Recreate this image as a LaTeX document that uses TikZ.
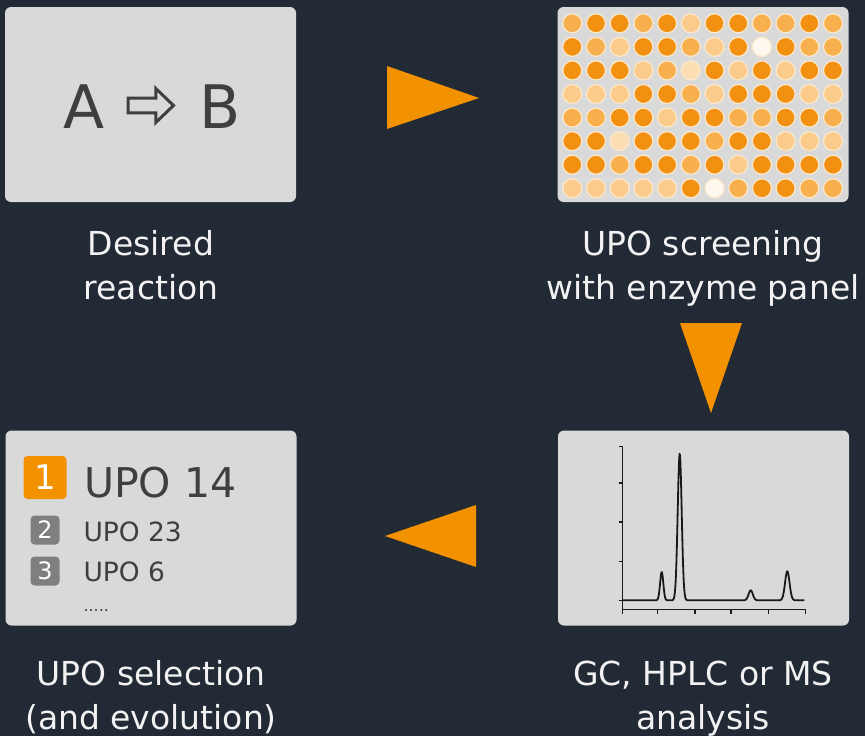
\documentclass[tikz,border=0pt]{standalone}
\usepackage{fontspec}
\setmainfont{DejaVu Sans}
\usepackage{tikz}
\usetikzlibrary{positioning}
\usetikzlibrary{calc}

\definecolor{bgnavy}{HTML}{222A35}
\definecolor{panelgray}{HTML}{D9D9D9}
\definecolor{captionwhite}{HTML}{F2F2F2}
\definecolor{inkgray}{HTML}{3F3F3F}
\definecolor{badgegray}{HTML}{7F7F7F}
\definecolor{arroworange}{HTML}{F39200}
\definecolor{wellring}{HTML}{FCE9CC}
\definecolor{wellD}{HTML}{F29111}
\definecolor{wellM}{HTML}{F8B04E}
\definecolor{wellL}{HTML}{FBCB8B}
\definecolor{wellV}{HTML}{FDDDB3}
\definecolor{wellW}{HTML}{FFF8EE}

\tikzset{
  panel/.style={fill=panelgray, rounded corners=6pt, minimum width=291pt, minimum height=195pt, inner sep=0pt},
  caption/.style={text=captionwhite, align=center, anchor=base, inner sep=0pt, font=\fontsize{33}{44}\selectfont},
  bigarrow/.style={fill=arroworange},
  badge/.style={rounded corners=4pt, text=white, inner sep=0pt},
  listentry/.style={anchor=base west, inner sep=0pt, text=inkgray, font=\fontsize{26.5}{26.5}\selectfont},
  well/.style={draw=wellring, line width=1.2pt},
  chart/.style={draw=black!90, line width=1.5pt}
}

\begin{document}
\begin{tikzpicture}[x=1pt,y=-1pt,
  declare function={pk(\t,\c,\w)=exp(-min(((\t-\c)/\w)*((\t-\c)/\w),40)/2);}]
\fill[bgnavy] (0,0) rectangle (865,736);
\useasboundingbox (0,0) rectangle (865,736);

% the four panels
\node[panel] (reaction) at (150.5,104.5) {};
\node[panel] (screening) at (703,104.5) {};
\node[panel] (analysis) at (703.5,528) {};
\node[panel] (selection) at (151,528) {};

% captions (base = last line)
\node[caption] (reactionlabel) at (151,299) {Desired\\reaction};
\node[caption] (screeninglabel) at (703,299) {UPO screening\\with enzyme panel};
\node[caption] (selectionlabel) at (151,729) {UPO selection\\(and evolution)};
\node[caption] (analysislabel) at (703,729) {GC, HPLC or MS\\analysis};

% orange arrows
\fill[bigarrow] (387,66) -- (387,129) -- (479,98) -- cycle;
\fill[bigarrow] (680,323) -- (742,323) -- (711,413) -- cycle;
\fill[bigarrow] (476,505) -- (476,567) -- (385,536) -- cycle;

% A => B
\node[text=inkgray, anchor=base, inner sep=0pt, font=\fontsize{60}{60}\selectfont] (lhs) at (83.7,128.3) {A};
\node[text=inkgray, anchor=base, inner sep=0pt, font=\fontsize{60}{60}\selectfont] (rhs) at (219.8,128.3) {B};
\draw[inkgray, line width=3pt] (128.2,98.2) -- (155.8,98.2) -- (155.8,88.5) -- (173.5,105.5) -- (155.8,122.5) -- (155.8,112.8) -- (128.2,112.8) -- cycle;

% well plate
\foreach \row [count=\j] in {{M,D,D,M,D,L,D,D,M,M,D,M},{D,M,L,D,D,M,L,D,W,D,M,M},{D,D,D,L,M,V,D,L,D,L,D,D},{L,L,L,D,D,M,L,D,D,D,L,L},{M,M,D,D,L,D,D,M,M,D,D,M},{D,D,V,D,D,D,M,D,D,L,L,L},{D,D,M,D,D,M,D,L,D,D,D,D},{L,L,L,L,L,D,W,M,D,D,M,M}}
  \foreach \c [count=\i] in \row
    \filldraw[well, fill=well\c] ({572.3+23.7*(\i-1)},{23.3+23.57*(\j-1)}) circle (9.5pt);

% chromatogram
\draw[chart] (622.7,446.3) -- (622.7,609.7) -- (805.7,609.7);
\foreach \ty in {446.3,483,522,561.3,600.3}
  \draw[chart] (618.7,\ty) -- (622.7,\ty);
\foreach \tx in {622.7,657.7,695,731,768.3,805.7}
  \draw[chart] (\tx,609.7) -- (\tx,613.5);
\draw[chart, line width=1.8pt, line join=round] plot[domain=622.7:804.3, samples=451]
  (\x,{600.3-28.3*pk(\x,661.7,1.6)-146.6*pk(\x,679.7,2.0)-10*pk(\x,750.7,2.1)-29*pk(\x,787.3,2.25)});

% ranking
\node[badge, fill=arroworange, minimum width=43pt, minimum height=43pt, font=\fontsize{34}{34}\selectfont] (firstbadge) at (45,477.5) {1};
\node[anchor=base west, inner sep=0pt, text=inkgray, font=\fontsize{41}{41}\selectfont] (firstname) at (84,497) {UPO 14};
\node[badge, fill=badgegray, minimum width=29pt, minimum height=29pt, font=\fontsize{24}{24}\selectfont] (secondbadge) at (45,530) {2};
\node[listentry] (secondname) at (83.3,541.3) {UPO 23};
\node[badge, fill=badgegray, minimum width=29pt, minimum height=29pt, font=\fontsize{24}{24}\selectfont] (thirdbadge) at (45,571) {3};
\node[listentry] (thirdname) at (83.3,581.3) {UPO 6};
\node[listentry, font=\fontsize{16}{16}\selectfont] (moredots) at (83.3,611) {.....};
\end{tikzpicture}
\end{document}
